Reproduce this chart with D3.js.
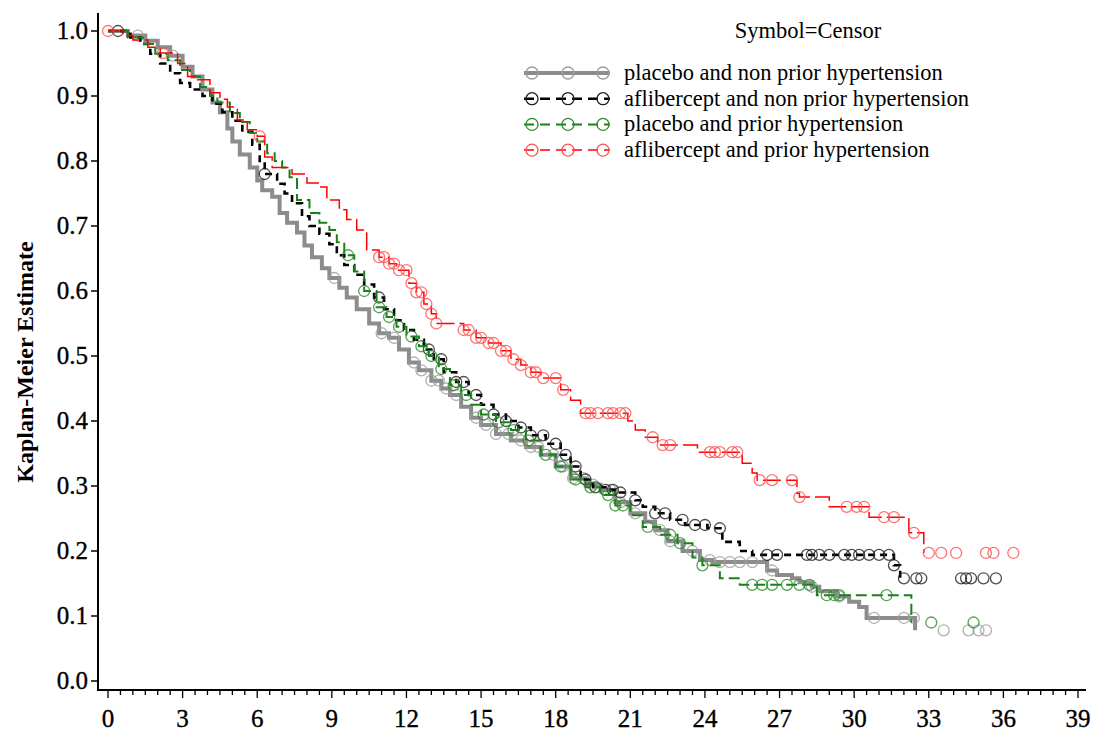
<!DOCTYPE html>
<html>
<head>
<meta charset="utf-8">
<script src="https://cdn.jsdelivr.net/npm/d3@7"></script>
<style>
  body { margin: 0; background: #fff; }
  svg { display: block; }
  text { font-family: "Liberation Serif", "DejaVu Serif", serif; fill: #000; }
</style>
</head>
<body>
<div id="chart"></div>
<script>
// Kaplan-Meier step points [month, estimate]
const placeboNonHtn = [[0,1.0],[0.8,0.993],[1.5,0.985],[2.0,0.975],[2.5,0.962],[3.0,0.945],[3.4,0.93],[3.8,0.91],[4.2,0.89],[4.5,0.875],[4.8,0.85],[5.0,0.83],[5.3,0.81],[5.7,0.79],[6.0,0.77],[6.2,0.755],[6.6,0.745],[6.9,0.72],[7.2,0.705],[7.6,0.69],[7.9,0.67],[8.2,0.652],[8.6,0.635],[8.9,0.62],[9.3,0.605],[9.6,0.59],[10.0,0.572],[10.5,0.55],[10.9,0.535],[11.3,0.528],[11.7,0.51],[12.1,0.49],[12.5,0.478],[13.0,0.462],[13.4,0.45],[13.75,0.44],[14.2,0.422],[14.6,0.405],[15.0,0.394],[15.6,0.38],[16.2,0.37],[16.8,0.36],[17.4,0.348],[18.0,0.33],[18.6,0.312],[19.2,0.302],[19.8,0.294],[20.4,0.275],[21.0,0.258],[21.6,0.245],[22.0,0.232],[22.5,0.215],[23.1,0.2],[23.8,0.186],[24.3,0.183],[26.5,0.17],[26.9,0.163],[27.5,0.158],[27.8,0.152],[28.3,0.145],[28.6,0.138],[29.3,0.13],[29.8,0.122],[30.2,0.114],[30.5,0.097],[32.45,0.078]];
const afliNonHtn = [[0,1.0],[0.9,0.99],[1.3,0.98],[1.7,0.965],[2.1,0.95],[2.5,0.935],[2.9,0.92],[3.3,0.91],[3.8,0.9],[4.2,0.888],[4.6,0.875],[5.0,0.862],[5.4,0.845],[5.8,0.825],[6.1,0.8],[6.3,0.78],[6.8,0.765],[7.1,0.75],[7.4,0.735],[7.8,0.715],[8.1,0.7],[8.5,0.688],[8.9,0.672],[9.2,0.655],[9.5,0.64],[9.9,0.625],[10.3,0.61],[10.7,0.59],[11.1,0.572],[11.5,0.555],[11.9,0.54],[12.3,0.525],[12.7,0.51],[13.1,0.495],[13.5,0.475],[14.0,0.46],[14.5,0.44],[15.0,0.425],[15.5,0.41],[16.0,0.4],[16.5,0.39],[17.0,0.378],[17.6,0.365],[18.2,0.348],[18.6,0.33],[19.0,0.31],[19.5,0.298],[20.0,0.294],[20.5,0.29],[21.2,0.278],[21.5,0.268],[22.0,0.258],[22.6,0.248],[23.2,0.24],[24.1,0.235],[24.7,0.214],[25.4,0.2],[25.9,0.194],[31.6,0.178],[31.85,0.158]];
const placeboHtn = [[0,1.0],[0.8,0.99],[1.4,0.98],[1.9,0.965],[2.4,0.955],[2.9,0.94],[3.3,0.93],[3.7,0.914],[4.1,0.9],[4.4,0.89],[4.9,0.874],[5.3,0.86],[5.7,0.843],[6.0,0.83],[6.4,0.812],[6.7,0.8],[7.0,0.79],[7.3,0.775],[7.6,0.74],[8.1,0.72],[8.5,0.705],[8.9,0.694],[9.2,0.675],[9.5,0.655],[9.9,0.63],[10.3,0.6],[10.8,0.575],[11.2,0.56],[11.6,0.545],[12.0,0.53],[12.5,0.515],[12.9,0.5],[13.3,0.48],[13.75,0.455],[14.2,0.44],[14.6,0.425],[15.0,0.41],[15.6,0.398],[16.2,0.386],[16.8,0.37],[17.4,0.348],[18.0,0.33],[18.6,0.31],[19.2,0.298],[19.8,0.286],[20.4,0.27],[21.0,0.255],[21.5,0.237],[22.2,0.225],[22.9,0.212],[23.5,0.19],[23.9,0.178],[24.6,0.158],[25.4,0.148],[28.5,0.132],[32.3,0.09]];
const afliHtn = [[0,1.0],[0.6,0.993],[1.0,0.986],[1.6,0.975],[2.1,0.966],[2.8,0.95],[3.2,0.93],[3.6,0.925],[4.1,0.905],[4.5,0.895],[4.8,0.883],[5.2,0.863],[5.6,0.848],[6.0,0.838],[6.3,0.806],[6.6,0.79],[7.4,0.78],[8.0,0.766],[8.5,0.76],[8.8,0.74],[9.3,0.725],[9.6,0.71],[10.0,0.694],[10.4,0.663],[10.9,0.652],[11.3,0.642],[11.6,0.632],[12.1,0.612],[12.4,0.598],[12.7,0.58],[13.0,0.565],[13.2,0.55],[14.3,0.54],[14.8,0.528],[15.3,0.52],[15.8,0.508],[16.2,0.495],[16.6,0.486],[17.0,0.475],[17.4,0.466],[18.2,0.448],[18.6,0.432],[19.0,0.412],[20.9,0.4],[21.2,0.386],[21.6,0.375],[22.1,0.363],[23.7,0.352],[25.5,0.335],[25.9,0.32],[26.1,0.309],[27.7,0.289],[27.8,0.283],[29.0,0.268],[30.6,0.252],[32.2,0.228],[32.8,0.197]];

// censoring times (months); the estimate is taken from the step curve
const placeboNonHtnCens = [1.2,2.6,9.1,11.0,11.5,12.3,12.6,13.0,13.3,13.6,14.0,14.8,15.2,15.6,16.1,16.6,17.0,17.3,17.9,18.3,18.7,19.1,19.5,20.2,20.6,21.2,22.2,22.6,23.5,24.2,24.6,25.0,25.4,25.9,26.7,28.3,29.4,30.8,32.0,32.4,33.6,34.6,35.0,35.3];
const afliNonHtnCens = [0.4,6.3,10.9,12.9,13.4,14.0,14.3,14.8,15.5,16.0,16.6,17.0,17.5,18.0,18.4,18.8,19.2,19.6,20.0,20.3,20.6,21.2,22.0,22.4,23.1,23.6,24.0,24.6,26.5,26.9,28.1,28.3,28.6,29.0,29.6,29.9,30.2,30.6,31.0,31.4,31.6,32.0,32.5,32.7,34.3,34.5,34.7,35.2,35.7];
const placeboHtnCens = [9.65,10.3,10.9,11.3,11.7,12.2,12.6,13.0,13.4,13.9,14.4,15.1,15.7,16.3,16.9,17.6,18.2,18.8,19.4,20.1,20.4,20.7,21.7,22.6,23.0,23.9,25.9,26.3,26.7,27.3,27.8,28.2,28.9,29.2,29.4,31.3,33.1,34.8];
const afliHtnCens = [0,2.2,6.1,10.9,11.1,11.3,11.5,11.7,12.0,12.2,12.4,12.6,12.8,13.0,13.2,14.3,14.5,14.8,15.0,15.3,15.5,15.8,16.0,16.3,16.6,17.0,17.2,17.5,18.0,18.3,19.2,19.4,19.7,20.1,20.3,20.6,20.8,21.9,22.3,22.6,24.2,24.4,24.6,25.1,25.3,26.2,26.7,27.5,27.8,29.7,30.1,30.4,31.2,31.6,32.4,33.0,33.5,34.1,35.3,35.6,36.4];

const groupNames = ["placebo and non prior hypertension", "aflibercept and non prior hypertension", "placebo and prior hypertension", "aflibercept and prior hypertension"];
const xTicks = d3.range(0, 40, 3);
const yTicks = d3.range(0, 11).map(d => d / 10);

const W = 1095, H = 731;
const svg = d3.select("#chart").append("svg").attr("width", W).attr("height", H);

const x = d3.scaleLinear().domain([0, 39]).range([108, 1078]);
const y = d3.scaleLinear().domain([0, 1]).range([681, 31]);

const groups = [
  { name: groupNames[0], steps: placeboNonHtn, cens: placeboNonHtnCens, color: "#8c8c8c", mark: "#9c9c9c", width: 4, dash: null },
  { name: groupNames[1], steps: afliNonHtn, cens: afliNonHtnCens, color: "#000", mark: "#222", width: 2.6, dash: "7,5" },
  { name: groupNames[2], steps: placeboHtn, cens: placeboHtnCens, color: "#1a801a", mark: "#2a8a2a", width: 2, dash: "11,5" },
  { name: groupNames[3], steps: afliHtn, cens: afliHtnCens, color: "#ff0000", mark: "#ff5050", width: 1.5, dash: "18,5" }
];

// estimate at time t from step points
const survAt = (steps, t) => {
  let s = steps[0][1];
  for (const [tt, v] of steps) { if (tt <= t) s = v; else break; }
  return s;
};

const line = d3.line().x(d => x(d[0])).y(d => y(d[1])).curve(d3.curveStepAfter);

groups.forEach(g => {
  svg.append("path")
    .attr("d", line(g.steps))
    .attr("fill", "none")
    .attr("stroke", g.color)
    .attr("stroke-width", g.width)
    .attr("stroke-dasharray", g.dash);
  svg.append("g").selectAll("circle")
    .data(g.cens)
    .join("circle")
    .attr("cx", d => x(d))
    .attr("cy", d => y(survAt(g.steps, d)))
    .attr("r", 5.5)
    .attr("fill", "none")
    .attr("stroke", g.mark)
    .attr("stroke-opacity", 0.8)
    .attr("stroke-width", 1.3);
});

// Axes
const axisG = svg.append("g").attr("stroke", "#000");
axisG.append("line").attr("x1", 98).attr("x2", 98).attr("y1", 13).attr("y2", 691).attr("stroke-width", 2);
axisG.append("line").attr("x1", 97).attr("x2", 1086).attr("y1", 690).attr("y2", 690).attr("stroke-width", 2);

axisG.selectAll(".ytick").data(yTicks).join("line")
  .attr("x1", 91).attr("x2", 98).attr("y1", d => y(d)).attr("y2", d => y(d)).attr("stroke-width", 1.5);
svg.append("g").selectAll("text").data(yTicks).join("text")
  .attr("x", 88).attr("y", d => y(d) + 8)
  .attr("text-anchor", "end").style("font-size", "25px")
  .attr("stroke", "#000").attr("stroke-width", 0.35)
  .text(d => d.toFixed(1));

const minor = d3.range(0, 39.01, 0.5);
axisG.selectAll(".xtick").data(minor).join("line")
  .attr("x1", d => x(d)).attr("x2", d => x(d))
  .attr("y1", 690).attr("y2", d => (d % 3 === 0 ? 698 : 695))
  .attr("stroke-width", 1.3);
svg.append("g").selectAll("text").data(xTicks).join("text")
  .attr("x", d => x(d)).attr("y", 727)
  .attr("text-anchor", "middle").style("font-size", "25px")
  .attr("stroke", "#000").attr("stroke-width", 0.35)
  .text(d => d);

svg.append("text")
  .attr("transform", "rotate(-90)")
  .attr("x", -362).attr("y", 33)
  .attr("text-anchor", "middle")
  .style("font-size", "24px").style("font-weight", "bold")
  .text("Kaplan-Meier Estimate");

// Legend
svg.append("text").attr("x", 808).attr("y", 38).attr("text-anchor", "middle")
  .style("font-size", "22.5px").text("Symbol=Censor");
groups.forEach((g, i) => {
  const ly = 73 + i * 25.7;
  svg.append("line").attr("x1", 524).attr("x2", 610).attr("y1", ly).attr("y2", ly)
    .attr("stroke", g.color).attr("stroke-width", g.width).attr("stroke-dasharray", g.dash ? "10,6" : null);
  [532, 568, 603].forEach(cx => {
    svg.append("circle").attr("cx", cx).attr("cy", ly).attr("r", 6)
      .attr("fill", "none").attr("stroke", g.mark).attr("stroke-width", 1.3);
  });
  svg.append("text").attr("x", 624).attr("y", ly + 7)
    .style("font-size", "22.5px").text(g.name);
});
</script>
</body>
</html>
